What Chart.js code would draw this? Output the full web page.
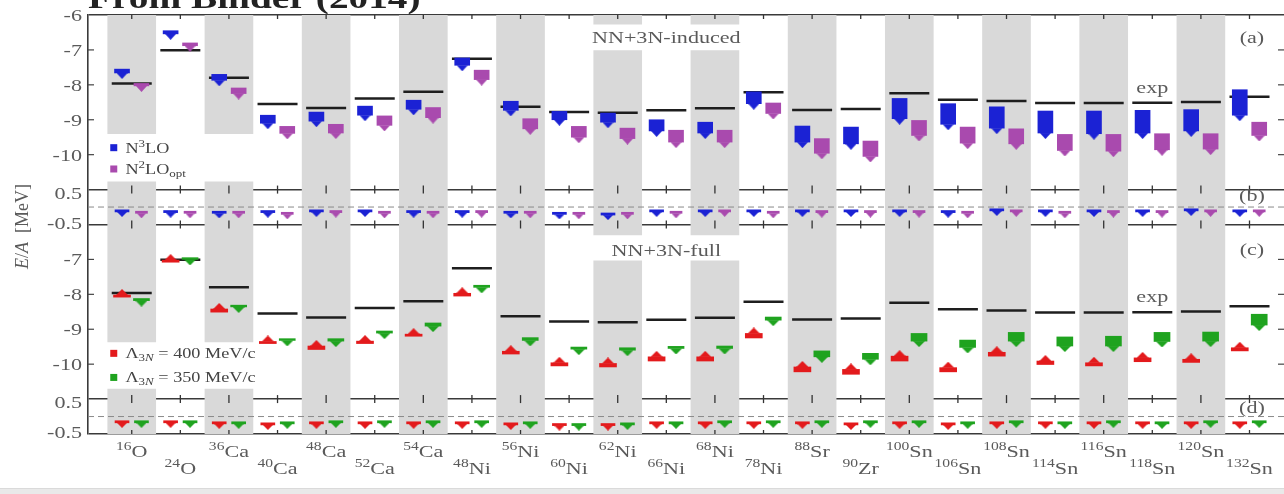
<!DOCTYPE html>
<html>
<head>
<meta charset="utf-8">
<script src="https://cdn.jsdelivr.net/npm/chart.js@4.4.1/dist/chart.umd.min.js"></script>
<style>
  html, body { margin: 0; padding: 0; background: #fff; }
  #wrap { position: relative; width: 1284px; height: 494px; overflow: hidden; }
  #chart { position: absolute; left: 0; top: 0; }
  #title { position: absolute; left: 88px; top: -17px; font: bold 30px "Liberation Serif", serif; line-height: 30px;
           color: #222; white-space: nowrap; transform: scaleX(1.31); transform-origin: left top; }
  #strip { position: absolute; left: 0; top: 488px; width: 1284px; height: 6px; background: #e9e9e9; border-top: 1px solid #dadada; }
</style>
</head>
<body>
<div id="wrap">
  <canvas id="chart" width="1284" height="494"></canvas>
  <div id="title">From Binder (2014)</div>
  <div id="strip"></div>
</div>
<script>
// nuclei along the x axis
var massNumbers = ['16', '24', '36', '40', '48', '52', '54', '48', '56', '60', '62', '66', '68', '78',
                   '88', '90', '100', '106', '108', '114', '116', '118', '120', '132'];
var elements = ['O', 'O', 'Ca', 'Ca', 'Ca', 'Ca', 'Ca', 'Ni', 'Ni', 'Ni', 'Ni', 'Ni', 'Ni', 'Ni',
                'Sr', 'Zr', 'Sn', 'Sn', 'Sn', 'Sn', 'Sn', 'Sn', 'Sn', 'Sn'];

// experimental E/A [MeV]
var expEnergy = [-7.96, -7.01, -7.80, -8.55, -8.66, -8.39, -8.20, -7.25, -8.63, -8.78, -8.80, -8.73,
                 -8.67, -8.21, -8.72, -8.69, -8.24, -8.43, -8.46, -8.52, -8.52, -8.51, -8.49, -8.34];

// (a) NN+3N-induced, box from top to bottom
var n3loTop = [-7.55, -6.45, -7.70, -8.87, -8.78, -8.61, -8.44, -7.23, -8.47, -8.76, -8.81, -9.00,
               -9.07, -8.20, -9.18, -9.21, -8.39, -8.54, -8.63, -8.75, -8.75, -8.73, -8.71, -8.14];
var n3loBottom = [-7.66, -6.54, -7.87, -9.10, -9.04, -8.87, -8.70, -7.44, -8.73, -9.00, -9.07, -9.32,
                  -9.38, -8.54, -9.64, -9.69, -8.97, -9.13, -9.24, -9.38, -9.40, -9.38, -9.32, -8.87];
var n2loTop = [-7.96, -6.80, -8.09, -9.19, -9.13, -8.89, -8.65, -7.58, -8.97, -9.19, -9.24, -9.30,
               -9.30, -8.52, -9.54, -9.61, -9.02, -9.21, -9.26, -9.42, -9.42, -9.40, -9.40, -9.07];
var n2loBottom = [-8.03, -6.88, -8.25, -9.39, -9.38, -9.16, -8.94, -7.85, -9.26, -9.50, -9.54, -9.64,
                  -9.64, -8.82, -9.96, -10.05, -9.45, -9.67, -9.69, -9.88, -9.90, -9.86, -9.84, -9.45];

// (b) differences [MeV]
var n3loDiff = [-0.08, -0.10, -0.12, -0.10, -0.08, -0.08, -0.10, -0.10, -0.12, -0.15, -0.17, -0.08,
                -0.08, -0.08, -0.08, -0.08, -0.08, -0.10, -0.05, -0.08, -0.08, -0.08, -0.05, -0.08];
var n2loDiff = [-0.12, -0.12, -0.12, -0.15, -0.10, -0.12, -0.12, -0.10, -0.12, -0.15, -0.15, -0.12,
                -0.08, -0.12, -0.10, -0.10, -0.10, -0.12, -0.08, -0.12, -0.10, -0.10, -0.08, -0.08];

// (c) NN+3N-full
var lam400Top = [-8.02, -7.02, -8.42, -9.35, -9.48, -9.34, -9.14, -7.97, -9.63, -9.96, -9.98, -9.79,
                 -9.79, -9.12, -10.08, -10.15, -9.77, -10.10, -9.66, -9.91, -9.96, -9.82, -9.86, -9.53];
var lam400Bottom = [-8.08, -7.08, -8.51, -9.41, -9.58, -9.41, -9.20, -8.05, -9.71, -10.05, -10.08, -9.91,
                    -9.91, -9.25, -10.22, -10.29, -9.91, -10.22, -9.77, -10.01, -10.05, -9.93, -9.95, -9.62];
var lam350Top = [-8.12, -6.95, -8.31, -9.27, -9.27, -9.05, -8.82, -7.74, -9.24, -9.51, -9.53, -9.49,
                 -9.48, -8.65, -9.62, -9.69, -9.12, -9.31, -9.09, -9.22, -9.20, -9.09, -9.08, -8.57];
var lam350Bottom = [-8.18, -7.00, -8.36, -9.32, -9.34, -9.11, -8.91, -7.80, -9.32, -9.57, -9.60, -9.55,
                    -9.55, -8.74, -9.79, -9.86, -9.34, -9.52, -9.34, -9.48, -9.48, -9.35, -9.34, -8.88];

// (d) differences [MeV]
var lam400Diff = [-0.12, -0.12, -0.15, -0.18, -0.15, -0.15, -0.15, -0.15, -0.18, -0.20, -0.20, -0.15,
                  -0.15, -0.15, -0.15, -0.18, -0.15, -0.18, -0.15, -0.15, -0.15, -0.15, -0.15, -0.15];
var lam350Diff = [-0.12, -0.12, -0.15, -0.15, -0.12, -0.12, -0.12, -0.12, -0.15, -0.20, -0.18, -0.15,
                  -0.12, -0.12, -0.12, -0.12, -0.12, -0.15, -0.12, -0.15, -0.12, -0.15, -0.12, -0.12];

// left axis labels, top to bottom (one per unit of the stacked axis)
var yTickLabels = ['-6', '-7', '-8', '-9', '-10', '0.5', '-0.5', '-7', '-8', '-9', '-10', '0.5', '-0.5'];

// the four panels share one axis: a and c in MeV, b and d as differences around 0
function panelA(e) { return e; }
function panelB(d) { return -11.5 + d; }
function panelC(e) { return e - 6; }
function panelD(d) { return -17.5 + d; }

var X_MIN = -0.9, X_MAX = 23.71;
var BLUE = '#1b22d4', MAGENTA = '#a94aae', RED = '#e31a1c', GREEN = '#1fa31f';
var BAND = '#d9d9d9', LINE = '#3a3a3a', TEXT = '#5a5a5a', SX = 1.3;
var OFF = 0.2, DIFF_BOX = 0.06;

function bandSegments(i) {
  // gaps leave room for legends and panel titles
  if (i === 0 || i === 2) return [[-6, -9.4], [-10.78, -15.36], [-16.71, -18]];
  if (i === 10 || i === 12) return [[-6, -6.26], [-7.02, -12.3], [-13.04, -18]];
  return [[-6, -18]];
}

function triangleImage(color, w, h, up) {
  var c = document.createElement('canvas');
  c.width = w; c.height = h * 2;
  var g = c.getContext('2d');
  g.fillStyle = color;
  g.beginPath();
  if (up) { g.moveTo(0, h); g.lineTo(w, h); g.lineTo(w / 2, 0); }
  else { g.moveTo(0, h); g.lineTo(w, h); g.lineTo(w / 2, 2 * h); }
  g.closePath();
  g.fill();
  return c;
}

function boxes(tops, bottoms, map, dx) {
  return tops.map(function(t, i) { return { x: i + dx, y: [map(t), map(bottoms[i])] }; });
}
function tips(values, map, dx) {
  return values.map(function(v, i) { return { x: i + dx, y: map(v) }; });
}
function boxSet(data, color, thick) {
  return { type: 'bar', data: data, backgroundColor: color, barThickness: thick, grouped: false, borderWidth: 0, order: 5 };
}
function triSet(data, img) {
  return { type: 'scatter', data: data, pointStyle: img, pointRadius: 5, order: 4 };
}
function diffBottoms(vals) { return vals.map(function(v) { return v - DIFF_BOX; }); }

var bandData = [];
massNumbers.forEach(function(m, i) {
  if (i % 2 !== 0) return;
  bandSegments(i).forEach(function(s) { bandData.push({ x: i, y: s }); });
});

var expData = [];
expEnergy.forEach(function(e, i) {
  expData.push({ x: i, y: panelA(e) });
  expData.push({ x: i, y: panelC(e) });
});

var crossTicks = [];
massNumbers.forEach(function(m, i) {
  [-6, -11, -12, -17, -18].forEach(function(v) { crossTicks.push({ x: i, y: v }); });
});
var sideTicks = [];
[-7, -8, -9, -10, -13, -14, -15, -16].forEach(function(v) {
  sideTicks.push({ x: X_MIN, y: v });
  sideTicks.push({ x: X_MAX, y: v });
});

var datasets = [
  { type: 'bar', data: bandData, backgroundColor: BAND, barThickness: 48, grouped: false, borderWidth: 0, order: 100 },
  { type: 'line', data: [{ x: X_MIN, y: panelB(0) }, { x: X_MAX, y: panelB(0) }], borderColor: '#8a8a8a',
    borderWidth: 1, borderDash: [6, 4], pointRadius: 0, order: 50 },
  { type: 'line', data: [{ x: X_MIN, y: panelD(0) }, { x: X_MAX, y: panelD(0) }], borderColor: '#8a8a8a',
    borderWidth: 1, borderDash: [6, 4], pointRadius: 0, order: 50 },
  { type: 'scatter', data: expData, pointStyle: 'line', pointRadius: 20, pointBorderWidth: 2.5,
    pointBorderColor: '#1e1e1e', order: 10 },

  // panel (a)
  boxSet(boxes(n3loTop, n3loBottom, panelA, -OFF), BLUE, 15),
  triSet(tips(n3loBottom, panelA, -OFF), triangleImage(BLUE, 11, 6, false)),
  boxSet(boxes(n2loTop, n2loBottom, panelA, OFF), MAGENTA, 15),
  triSet(tips(n2loBottom, panelA, OFF), triangleImage(MAGENTA, 11, 6, false)),
  // panel (b)
  boxSet(boxes(n3loDiff, diffBottoms(n3loDiff), panelB, -OFF), BLUE, 14),
  triSet(tips(diffBottoms(n3loDiff), panelB, -OFF), triangleImage(BLUE, 10, 5, false)),
  boxSet(boxes(n2loDiff, diffBottoms(n2loDiff), panelB, OFF), MAGENTA, 12),
  triSet(tips(diffBottoms(n2loDiff), panelB, OFF), triangleImage(MAGENTA, 9, 5, false)),
  // panel (c)
  boxSet(boxes(lam400Top, lam400Bottom, panelC, -OFF), RED, 17),
  triSet(tips(lam400Top, panelC, -OFF), triangleImage(RED, 12, 6, true)),
  boxSet(boxes(lam350Top, lam350Bottom, panelC, OFF), GREEN, 16),
  triSet(tips(lam350Bottom, panelC, OFF), triangleImage(GREEN, 12, 6, false)),
  // panel (d)
  boxSet(boxes(lam400Diff, diffBottoms(lam400Diff), panelD, -OFF), RED, 14),
  triSet(tips(diffBottoms(lam400Diff), panelD, -OFF), triangleImage(RED, 10, 5, false)),
  boxSet(boxes(lam350Diff, diffBottoms(lam350Diff), panelD, OFF), GREEN, 14),
  triSet(tips(diffBottoms(lam350Diff), panelD, OFF), triangleImage(GREEN, 10, 5, false)),

  { type: 'scatter', data: crossTicks, pointStyle: 'line', pointRotation: 90, pointRadius: 4,
    pointBorderWidth: 1.3, pointBorderColor: '#333', order: 0 },
  { type: 'scatter', data: sideTicks, pointStyle: 'line', pointRadius: 6,
    pointBorderWidth: 1.2, pointBorderColor: '#444', order: 0 }
];

function fontOf(s) {
  return (s.italic ? 'italic ' : '') + (s.size || 17) + 'px "Liberation Serif", "DejaVu Serif", serif';
}
function drawRich(ctx, segs, x, y, align, color, sx) {
  var total = 0;
  segs.forEach(function(s) { ctx.font = fontOf(s); s.w = ctx.measureText(s.t).width; total += s.w; });
  var cx = align === 'center' ? -total / 2 : (align === 'right' ? -total : 0);
  ctx.save();
  ctx.translate(x, y);
  ctx.scale(sx || SX, 1);
  ctx.fillStyle = color || TEXT;
  ctx.textAlign = 'left';
  ctx.textBaseline = 'alphabetic';
  segs.forEach(function(s) { ctx.font = fontOf(s); ctx.fillText(s.t, cx, s.dy || 0); cx += s.w; });
  ctx.restore();
}

var figureText = {
  id: 'figureText',
  afterDraw: function(chart) {
    var ctx = chart.ctx, xs = chart.scales.x, ys = chart.scales.y, area = chart.chartArea;
    var px = function(v) { return xs.getPixelForValue(v); };
    var py = function(v) { return ys.getPixelForValue(v); };

    // y tick labels
    ys.ticks.forEach(function(t) {
      var lab = yTickLabels[Math.round(-6 - t.value)];
      var nudge = lab === '0.5' ? 3 : (lab === '-0.5' ? -2 : 0);
      drawRich(ctx, [{ t: lab, size: 17 }], area.left - 6, py(t.value) + 6 + nudge, 'right');
    });

    // y title
    ctx.save();
    ctx.translate(28, (area.top + area.bottom) / 2 + 2);
    ctx.rotate(-Math.PI / 2);
    drawRich(ctx, [{ t: 'E', italic: true, size: 18 }, { t: '/', size: 18 }, { t: 'A', italic: true, size: 18 },
                   { t: '  [MeV]', size: 18 }], 0, 0, 'center', TEXT, 1);
    ctx.restore();

    // x labels, staggered in two rows
    massNumbers.forEach(function(m, i) {
      var base = area.bottom + (i % 2 === 0 ? 23 : 40);
      drawRich(ctx, [{ t: m, size: 12, dy: -7 }, { t: elements[i], size: 17 }], px(i), base, 'center');
    });

    // panel titles and tags
    drawRich(ctx, [{ t: 'NN+3N-induced', size: 17 }], px(11), py(panelA(-6.81)), 'center');
    drawRich(ctx, [{ t: 'NN+3N-full', size: 17 }], px(11), py(panelC(-6.9)), 'center');
    drawRich(ctx, [{ t: '(a)', size: 17 }], px(23.05), py(panelA(-6.8)), 'center');
    drawRich(ctx, [{ t: '(b)', size: 17 }], px(23.05), py(panelB(0.17)), 'center');
    drawRich(ctx, [{ t: '(c)', size: 17 }], px(23.05), py(panelC(-6.87)), 'center');
    drawRich(ctx, [{ t: '(d)', size: 17 }], px(23.05), py(panelD(0.1)), 'center');
    drawRich(ctx, [{ t: 'exp', size: 17 }], px(21), py(panelA(expEnergy[21])) - 10, 'center');
    drawRich(ctx, [{ t: 'exp', size: 17 }], px(21), py(panelC(expEnergy[21])) - 10, 'center');

    // legends
    var legends = [
      { color: BLUE, y: panelA(-9.8), segs: [{ t: 'N', size: 14 }, { t: '3', size: 10, dy: -6 }, { t: 'LO', size: 14 }] },
      { color: MAGENTA, y: panelA(-10.41), segs: [{ t: 'N', size: 14 }, { t: '2', size: 10, dy: -6 }, { t: 'LO', size: 14 },
                                                  { t: 'opt', size: 10, dy: 3 }] },
      { color: RED, y: panelC(-9.69), segs: [{ t: 'Λ', size: 14 }, { t: '3', size: 10, dy: 3 }, { t: 'N', size: 10, dy: 3, italic: true },
                                             { t: ' = 400 MeV/c', size: 14 }] },
      { color: GREEN, y: panelC(-10.38), segs: [{ t: 'Λ', size: 14 }, { t: '3', size: 10, dy: 3 }, { t: 'N', size: 10, dy: 3, italic: true },
                                               { t: ' = 350 MeV/c', size: 14 }] }
    ];
    legends.forEach(function(l) {
      var yy = py(l.y);
      ctx.fillStyle = l.color;
      ctx.fillRect(px(-0.37) - 3.5, yy - 3.5, 7, 7);
      drawRich(ctx, l.segs, px(-0.13), yy + 5, 'left', '#444');
    });
  }
};

new Chart(document.getElementById('chart').getContext('2d'), {
  type: 'bar',
  data: { datasets: datasets },
  options: {
    responsive: false,
    animation: false,
    events: [],
    layout: { autoPadding: false, padding: { left: 0, top: 15, right: 0, bottom: 60 } },
    plugins: { legend: { display: false }, tooltip: { enabled: false } },
    scales: {
      x: { type: 'linear', min: X_MIN, max: X_MAX, offset: false, display: false },
      y: {
        type: 'linear', min: -18, max: -6, z: 1,
        ticks: { display: false, stepSize: 1 },
        grid: {
          drawTicks: false, lineWidth: 1.6,
          color: function(c) {
            return [-6, -11, -12, -17, -18].indexOf(c.tick.value) >= 0 ? LINE : 'rgba(0,0,0,0)';
          }
        },
        border: { display: true, color: LINE, width: 1.6 },
        afterFit: function(s) { s.width = 88; }
      }
    }
  },
  plugins: [figureText]
});
</script>
</body>
</html>
